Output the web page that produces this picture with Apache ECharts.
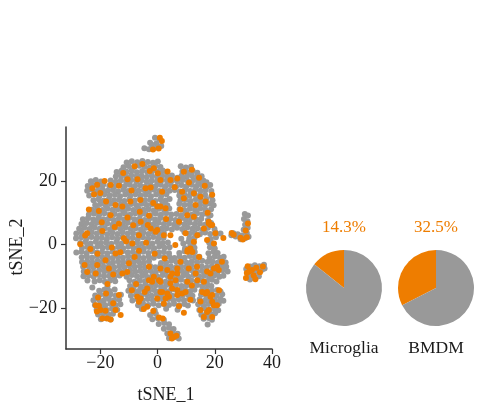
<!DOCTYPE html>
<html>
<head>
<meta charset="utf-8">
<script src="https://cdn.jsdelivr.net/npm/echarts@6/dist/echarts.min.js"></script>
<style>
  html, body { margin: 0; padding: 0; background: #ffffff; }
  #chart { width: 481px; height: 417px; }
</style>
</head>
<body>
<div id="chart"></div>
<script>
// Axis tick values
const xTicks = [-20, 0, 20, 40];
const yTicks = [-20, 0, 20];

// tSNE embedding: cells outside the highlighted group
const greyCells = [
  // small island at the top
  [-4.6,30.3],[-3.0,30.0],[-2.0,31.4],[-0.4,31.8],[0.6,33.2],[-0.9,33.6],[1.3,31.0],[-1.4,30.2],[0.2,30.5],[-2.6,32.0],
  // main body, top to bottom
  [-10.8,25.8],[-9.0,26.2],[-7.1,25.9],[-5.3,26.3],[-3.4,26.0],[-1.6,25.7],[0.1,26.1],
  [-11.9,24.3],[-10.1,24.7],[-8.2,24.4],[-6.4,24.8],[-4.5,24.5],[-2.7,24.2],[-0.8,24.6],[1.0,24.4],[8.1,24.6],[9.9,24.2],[11.7,24.5],
  [-14.3,22.8],[-12.6,23.2],[-10.8,22.9],[-9.0,23.3],[-7.2,22.7],[-5.4,23.1],[-3.6,22.8],[-1.8,23.2],[0.0,22.9],[1.8,23.3],[3.2,22.7],[8.7,23.0],[10.5,22.7],[12.3,23.1],[13.9,22.6],
  [-14.6,21.4],[-12.8,21.7],[-11.0,21.3],[-9.2,21.8],[-7.4,21.4],[-5.6,21.6],[-3.8,21.2],[-2.0,21.7],[-0.2,21.3],[1.6,21.6],[3.4,21.2],[5.0,21.7],[6.9,21.0],[8.4,21.6],[10.2,21.3],[12.0,21.7],[13.8,21.2],[15.4,21.5],
  [-23.3,19.9],[-21.6,20.3],[-19.8,19.8],[-16.4,20.1],[-14.6,19.7],[-12.8,20.2],[-11.0,19.8],[-9.2,20.3],[-7.4,19.9],[-5.6,20.2],[-3.8,19.7],[-2.0,20.1],[-0.2,19.8],[1.6,20.3],[3.4,19.9],[5.2,20.2],[7.0,19.8],[8.8,20.3],[10.6,19.9],[12.4,20.2],[14.2,19.7],[16.0,20.1],[17.1,19.6],
  [-24.4,18.4],[-22.6,18.7],[-20.8,18.3],[-19.0,18.8],[-16.9,18.5],[-15.1,18.2],[-13.3,18.7],[-11.5,18.3],[-9.7,18.8],[-7.9,18.4],[-6.1,18.6],[-4.3,18.2],[-2.5,18.7],[-0.7,18.3],[1.1,18.8],[2.9,18.4],[4.7,18.6],[6.5,18.2],[8.3,18.7],[10.1,18.3],[11.9,18.8],[13.7,18.4],[15.5,18.6],[17.3,18.2],[18.4,18.7],
  [-24.6,16.9],[-22.8,17.2],[-21.0,16.8],[-19.2,17.3],[-17.4,16.9],[-15.6,17.1],[-13.8,16.7],[-12.0,17.2],[-10.2,16.8],[-8.4,17.3],[-6.6,16.9],[-4.8,17.1],[-3.0,16.7],[-1.2,17.2],[0.6,16.8],[2.4,17.3],[4.2,16.9],[6.0,17.1],[7.8,16.7],[9.6,17.2],[11.4,16.8],[13.2,17.3],[15.0,16.9],[16.8,17.1],[18.8,16.8],
  [-23.9,15.4],[-22.1,15.7],[-20.3,15.3],[-18.5,15.8],[-16.7,15.4],[-14.9,15.6],[-13.1,15.2],[-11.3,15.7],[-9.5,15.3],[-7.7,15.8],[-5.9,15.4],[-4.1,15.6],[-2.3,15.2],[-0.5,15.7],[1.3,15.3],[3.1,15.8],[7.6,15.4],[9.4,15.7],[11.2,15.3],[13.0,15.8],[14.8,15.4],[16.6,15.6],[18.8,15.2],
  [-22.4,13.9],[-20.6,14.2],[-18.8,13.8],[-17.0,14.3],[-15.2,13.9],[-13.4,14.1],[-11.6,13.7],[-9.8,14.2],[-8.0,13.8],[-6.2,14.3],[-4.4,13.9],[-2.6,14.1],[-0.8,13.7],[1.0,14.2],[2.8,13.8],[4.2,14.3],[8.0,13.9],[9.8,14.1],[11.6,13.7],[13.4,14.2],[15.2,13.8],[17.0,14.3],[19.2,13.9],
  [-21.8,12.4],[-20.0,12.7],[-18.2,12.3],[-16.4,12.8],[-14.6,12.4],[-12.8,12.6],[-11.0,12.2],[-9.2,12.7],[-7.4,12.3],[-5.6,12.8],[-3.8,12.4],[-2.0,12.6],[-0.2,12.2],[1.6,12.7],[3.4,12.3],[7.6,12.8],[9.4,12.4],[11.2,12.6],[13.0,12.2],[14.8,12.7],[16.6,12.3],[18.4,12.8],[19.6,12.3],
  [-22.9,10.9],[-21.1,11.2],[-19.3,10.8],[-17.5,11.3],[-15.7,10.9],[-13.9,11.1],[-12.1,10.7],[-10.3,11.2],[-8.5,10.8],[-6.7,11.3],[-4.9,10.9],[-3.1,11.1],[-1.3,10.7],[0.5,11.2],[2.3,10.8],[4.1,11.3],[7.7,11.1],[9.5,10.7],[11.3,11.2],[13.1,10.8],[14.9,11.3],[16.7,10.9],[18.7,11.1],
  [-24.0,9.4],[-22.2,9.7],[-20.4,9.3],[-18.6,9.8],[-16.8,9.4],[-15.0,9.6],[-13.2,9.2],[-11.4,9.7],[-9.6,9.3],[-7.8,9.8],[-6.0,9.4],[-4.2,9.6],[-2.4,9.2],[-0.6,9.7],[1.2,9.3],[3.0,9.8],[4.8,9.4],[6.6,9.6],[8.4,9.2],[10.2,9.7],[12.0,9.3],[13.8,9.8],[15.6,9.4],[17.4,9.6],[18.5,9.2],
  [-26.1,7.9],[-24.3,8.2],[-22.5,7.8],[-20.7,8.3],[-18.9,7.9],[-17.1,8.1],[-15.3,7.7],[-13.5,8.2],[-11.7,7.8],[-9.9,8.3],[-8.1,7.9],[-6.3,8.1],[-4.5,7.7],[-2.7,8.2],[-0.9,7.8],[0.9,8.3],[2.7,7.9],[4.5,8.1],[6.3,7.7],[8.1,8.2],[9.9,7.8],[11.7,8.3],[13.5,7.9],[15.3,8.1],[17.6,7.7],
  [-26.6,6.4],[-24.8,6.7],[-23.0,6.3],[-21.2,6.8],[-19.4,6.4],[-17.6,6.6],[-15.8,6.2],[-14.0,6.7],[-12.2,6.3],[-10.4,6.8],[-8.6,6.4],[-6.8,6.6],[-5.0,6.2],[-3.2,6.7],[-1.4,6.3],[0.4,6.8],[2.2,6.4],[4.0,6.6],[5.8,6.2],[7.6,6.7],[9.4,6.3],[11.2,6.8],[13.0,6.4],[14.8,6.6],[16.6,6.2],[18.7,6.7],
  [-27.4,4.9],[-25.6,5.2],[-23.8,4.8],[-22.0,5.3],[-20.2,4.9],[-18.4,5.1],[-16.6,4.7],[-14.8,5.2],[-13.0,4.8],[-11.2,5.3],[-9.4,4.9],[-7.6,5.1],[-5.8,4.7],[-4.0,5.2],[-2.2,4.8],[-0.4,5.3],[1.4,4.9],[3.2,5.1],[5.0,4.7],[6.8,5.2],[8.6,4.8],[10.4,5.3],[12.2,4.9],[14.0,5.1],[15.8,4.7],[17.6,5.2],[19.9,4.8],
  [-28.4,3.4],[-26.6,3.7],[-24.8,3.3],[-23.0,3.8],[-21.2,3.4],[-19.4,3.6],[-17.6,3.2],[-15.8,3.7],[-14.0,3.3],[-12.2,3.8],[-10.4,3.4],[-8.6,3.6],[-6.8,3.2],[-5.0,3.7],[-3.2,3.3],[-1.4,3.8],[0.4,3.4],[2.2,3.6],[9.4,3.8],[11.2,3.4],[13.0,3.6],[14.8,3.2],[16.6,3.7],[18.4,3.3],[20.2,3.8],[22.0,3.4],
  [-28.5,1.9],[-26.7,2.2],[-24.9,1.8],[-23.1,2.3],[-21.3,1.9],[-19.5,2.1],[-17.7,1.7],[-15.9,2.2],[-14.1,1.8],[-12.3,2.3],[-10.5,1.9],[-8.7,2.1],[-6.9,1.7],[-5.1,2.2],[-3.3,1.8],[-1.5,2.3],[0.3,1.9],[2.1,2.1],[8.3,1.8],[11.1,1.9],[12.9,2.1],[18.6,1.7],[20.4,2.2],
  [-27.0,0.4],[-25.2,0.7],[-23.4,0.3],[-21.6,0.8],[-19.8,0.4],[-18.0,0.6],[-16.2,0.2],[-14.4,0.7],[-12.6,0.3],[-10.8,0.8],[-9.0,0.4],[-7.2,0.6],[-5.4,0.2],[-3.6,0.7],[-1.8,0.3],[0.0,0.8],[1.8,0.4],[3.6,0.6],[9.0,0.3],[10.8,0.8],[12.6,0.4],[18.0,0.6],[19.6,0.2],
  [-26.4,-1.1],[-24.6,-0.8],[-22.8,-1.2],[-21.0,-0.7],[-19.2,-1.1],[-17.4,-0.9],[-15.6,-1.3],[-13.8,-0.8],[-12.0,-1.2],[-10.2,-0.7],[-8.4,-1.1],[-6.6,-0.9],[-4.8,-1.3],[-3.0,-0.8],[-1.2,-1.2],[0.6,-0.7],[2.4,-1.1],[4.2,-0.9],[9.6,-1.2],[11.4,-0.7],[12.9,-1.1],[18.3,-0.9],[20.0,-1.3],
  [-28.4,-2.6],[-26.6,-2.3],[-24.8,-2.7],[-23.0,-2.2],[-21.2,-2.6],[-19.4,-2.4],[-17.6,-2.8],[-15.8,-2.3],[-14.0,-2.7],[-12.2,-2.2],[-10.4,-2.6],[-8.6,-2.4],[-6.8,-2.8],[-5.0,-2.3],[-3.2,-2.7],[-1.4,-2.2],[0.4,-2.6],[2.2,-2.4],[4.0,-2.8],[7.6,-2.7],[9.4,-2.2],[13.0,-2.4],[17.8,-2.8],[19.6,-2.3],[21.0,-2.7],
  [-26.5,-4.1],[-24.7,-3.8],[-22.9,-4.2],[-21.1,-3.7],[-19.3,-4.1],[-17.5,-3.9],[-15.7,-4.3],[-13.9,-3.8],[-12.1,-4.2],[-10.3,-3.7],[-8.5,-4.1],[-6.7,-3.9],[-4.9,-4.3],[-3.1,-3.8],[-1.3,-4.2],[0.5,-3.7],[2.3,-4.1],[4.1,-3.9],[5.9,-4.3],[7.7,-3.8],[9.5,-4.2],[11.3,-3.7],[13.1,-4.1],[14.6,-3.9],[18.2,-4.3],[20.0,-3.8],[21.8,-4.2],[23.1,-3.9],
  [-26.4,-5.6],[-24.6,-5.3],[-22.8,-5.7],[-21.0,-5.2],[-19.2,-5.6],[-17.4,-5.4],[-15.6,-5.8],[-13.8,-5.3],[-12.0,-5.7],[-10.2,-5.2],[-8.4,-5.6],[-6.6,-5.4],[-4.8,-5.8],[-3.0,-5.3],[1.2,-5.9],[3.0,-5.7],[4.8,-5.2],[6.6,-5.6],[8.4,-5.4],[10.2,-5.8],[12.0,-5.3],[13.8,-5.7],[15.6,-5.2],[17.4,-5.6],[19.2,-5.4],[21.0,-5.8],[22.8,-5.3],[23.8,-5.7],
  [-26.0,-7.1],[-24.2,-6.8],[-22.4,-7.2],[-20.6,-6.7],[-18.8,-7.1],[-17.0,-6.9],[-15.2,-7.3],[-13.4,-6.8],[-11.6,-7.2],[-9.8,-6.7],[-8.0,-7.1],[-6.2,-6.9],[-4.4,-7.3],[-2.6,-6.8],[-0.8,-7.2],[1.0,-6.7],[2.8,-7.1],[4.6,-6.9],[6.4,-7.3],[8.2,-6.8],[10.0,-7.2],[11.8,-6.7],[13.6,-7.1],[15.4,-6.9],[17.2,-7.3],[19.0,-6.8],[20.8,-7.2],[22.6,-6.7],[24.0,-7.1],
  [-25.8,-8.6],[-24.0,-8.3],[-22.2,-8.7],[-20.4,-8.2],[-18.6,-8.6],[-16.8,-8.4],[-15.0,-8.8],[-13.2,-8.3],[-11.4,-8.7],[-9.6,-8.2],[-7.8,-8.6],[-6.0,-8.4],[-4.2,-8.8],[-2.4,-8.3],[-0.6,-8.7],[1.2,-8.2],[3.0,-8.6],[4.8,-8.4],[6.6,-8.8],[8.4,-8.3],[10.2,-8.7],[12.0,-8.2],[13.8,-8.6],[15.6,-8.4],[17.4,-8.8],[19.2,-8.3],[21.0,-8.7],[22.8,-8.2],[24.5,-8.6],
  [-25.9,-10.1],[-24.1,-9.8],[-22.3,-10.2],[-20.5,-9.7],[-18.7,-10.1],[-16.9,-9.9],[-15.1,-10.3],[-13.3,-9.8],[-10.8,-10.2],[-9.0,-9.7],[-7.2,-10.1],[-5.4,-9.9],[-3.6,-10.3],[-1.8,-9.8],[0.0,-10.2],[1.8,-9.7],[3.6,-10.1],[5.4,-9.9],[7.2,-10.3],[9.0,-9.8],[10.8,-10.2],[12.6,-9.7],[14.4,-10.1],[16.2,-9.9],[18.0,-10.3],[19.8,-9.8],[21.6,-10.2],[23.0,-9.9],
  [-24.5,-11.4],[-22.0,-11.7],[-20.2,-11.3],[-18.4,-11.8],[-16.6,-11.4],[-14.8,-11.6],[-9.8,-11.3],[-8.0,-11.8],[-6.2,-11.4],[-4.4,-11.6],[-2.6,-11.2],[-0.8,-11.7],[1.0,-11.3],[2.8,-11.8],[4.6,-11.4],[6.4,-11.6],[8.2,-11.2],[10.0,-11.7],[11.8,-11.3],[13.6,-11.8],[15.4,-11.4],[17.2,-11.6],[19.0,-11.2],[20.6,-11.7],
  [-22.8,-13.6],[-17.5,-13.2],[-9.6,-13.1],[-7.8,-12.8],[-6.0,-13.2],[-4.2,-12.7],[-2.4,-13.1],[-0.6,-12.9],[1.2,-13.3],[3.0,-12.8],[4.8,-13.2],[6.6,-12.7],[8.4,-13.1],[10.2,-12.9],[12.0,-13.3],[13.8,-12.8],[15.6,-13.2],[17.4,-12.7],[18.8,-13.1],
  // lower lobes: left island, centre, right
  [-20.4,-14.6],[-18.6,-14.3],[-16.8,-14.7],[-15.0,-14.2],
  [-10.2,-14.6],[-8.4,-14.3],[-6.6,-14.7],[-4.8,-14.2],[-3.0,-14.6],[-1.2,-14.4],[0.6,-14.8],[2.4,-14.3],[4.2,-14.7],[6.0,-14.2],[7.8,-14.6],[9.6,-14.4],[11.4,-14.8],[12.9,-14.3],
  [15.4,-14.7],[17.2,-14.2],[19.0,-14.6],[20.8,-14.4],[22.0,-14.9],
  [-21.8,-16.1],[-20.0,-15.8],[-18.2,-16.2],[-16.4,-15.7],[-14.6,-16.1],[-12.8,-15.9],
  [-9.3,-16.2],[-7.5,-15.8],[-5.7,-16.1],[-3.9,-15.7],[-2.1,-16.2],[-0.3,-15.8],[1.5,-16.1],[3.3,-15.7],[5.1,-16.2],[6.9,-15.8],[8.7,-16.1],[10.5,-15.7],[12.2,-16.2],
  [15.2,-15.9],[17.0,-16.3],[18.8,-15.8],[20.6,-16.2],[22.6,-15.7],
  [-22.4,-17.6],[-20.6,-17.3],[-18.8,-17.7],[-17.0,-17.2],[-15.2,-17.6],[-13.4,-17.4],
  [-8.8,-17.7],[-7.0,-17.3],[-5.2,-17.6],[-3.4,-17.2],[-1.6,-17.7],[0.2,-17.3],[2.0,-17.6],[3.8,-17.2],[5.6,-17.7],[7.4,-17.3],[9.2,-17.6],[11.0,-17.2],[12.4,-17.7],
  [14.7,-17.4],[16.5,-17.8],[18.3,-17.3],[20.1,-17.7],[22.0,-17.2],[23.0,-17.8],
  [-21.9,-19.1],[-20.1,-18.8],[-18.3,-19.2],[-16.5,-18.7],[-14.7,-19.1],[-13.0,-18.9],
  [-6.8,-19.2],[-5.0,-18.8],[-3.2,-19.1],[-1.4,-18.7],[0.4,-19.2],[2.2,-18.8],[4.0,-19.1],[5.8,-18.7],[7.6,-19.2],[9.4,-18.8],[10.6,-19.3],
  [14.2,-18.9],[16.0,-19.3],[17.8,-18.8],[19.6,-19.2],[21.4,-18.7],
  [-21.3,-20.6],[-19.5,-20.3],[-17.7,-20.7],[-15.9,-20.2],[-14.1,-20.6],
  [-5.5,-20.4],[-1.0,-20.8],[3.0,-20.3],[7.0,-20.6],
  [14.6,-20.7],[16.4,-20.2],[18.2,-20.6],[20.0,-20.3],[21.2,-20.8],
  [-20.8,-22.1],[-19.0,-21.8],[-17.2,-22.2],[-15.6,-21.9],
  [15.3,-22.2],[17.1,-21.8],[18.9,-22.1],[20.1,-21.7],
  [-19.8,-23.6],[-18.0,-23.3],[-16.4,-23.7],
  [16.1,-23.5],[17.9,-23.2],[19.0,-23.8],[17.5,-25.3],
  // bottom island
  [-2.6,-22.3],[-0.6,-21.9],[-1.8,-23.6],[0.1,-23.3],[2.2,-23.8],
  [0.4,-25.1],[2.3,-24.8],[4.0,-25.2],[2.2,-26.6],[4.0,-26.3],[5.6,-26.7],
  [3.4,-28.1],[5.2,-27.8],[7.0,-28.2],[4.0,-29.6],[5.8,-29.3],[7.4,-29.7],
  // right islands
  [30.5,9.6],[31.6,9.1],[30.2,8.0],[31.4,7.3],[30.6,6.2],[31.5,5.2],[30.1,4.6],[31.2,3.6],[29.5,2.8],[28.0,3.2],[26.5,3.5],[27.3,2.5],[25.8,2.9],[30.6,1.9],[29.0,1.6],[31.8,2.4],
  [31.0,-7.8],[32.5,-7.0],[34.0,-6.6],[35.6,-6.9],[37.2,-6.4],[36.5,-8.0],[34.8,-8.5],[33.2,-9.0],[31.8,-9.6],[33.8,-10.6],[35.4,-10.1],[37.4,-7.6],[32.3,-11.1]
];

// tSNE embedding: cells of the highlighted group
const orangeCells = [
  [0.8,33.6],[1.5,32.6],[0.4,30.2],[-1.6,29.9],
  [-5.3,25.3],[-8.0,24.6],[-2.7,23.1],[0.1,22.4],[-13.5,18.5],[-16.4,18.7],[-22.8,17.7],[-21.1,18.8],[-22.2,15.8],[-20.0,16.2],
  [-9.1,17.0],[-6.0,14.0],[-4.2,17.7],[-2.4,17.9],[1.0,20.3],[-14.7,12.4],[-12.3,11.9],[-6.2,10.3],[1.0,11.9],[-16.4,9.2],
  [-19.3,4.2],[-24.6,3.5],[-25.3,2.8],[-5.9,7.1],[-3.4,6.1],[-2.4,5.0],[-0.1,4.5],[-6.5,2.9],[-18.0,13.5],[-10.5,20.5],
  [-1.5,13.0],[-8.5,6.0],[-11.0,1.0],[-21.0,-3.0],[-13.0,-2.5],[-8.0,-4.0],[-4.0,0.5],[-15.0,5.5],
  [-1.3,24.0],[9.2,22.9],[4.5,20.3],[6.9,20.8],[1.6,16.6],[8.6,16.6],[12.7,16.1],[15.0,15.0],[9.2,14.5],[-0.1,11.9],[2.8,11.4],
  [13.3,12.4],[16.8,13.5],[19.1,15.6],[7.5,7.1],[10.4,9.2],[12.7,8.7],[17.9,7.1],[18.5,6.1],[16.2,5.0],[13.9,2.9],[9.8,3.5],
  [-0.7,4.0],[2.2,2.9],[23.0,2.0],[11.0,19.5],[14.5,21.0],[3.0,8.0],[4.5,2.9],[10.5,-1.8],[12.2,-2.4],[6.2,-0.2],
  [-21.6,-9.2],[-24.6,-8.7],[-17.0,-7.6],[-12.3,-9.2],[-10.6,-8.7],[-3.0,-11.3],[0.5,-11.3],[-7.1,-16.5],[-6.5,-18.1],[-4.8,-20.4],
  [-3.6,-13.9],[1.0,-15.0],[-21.1,-6.5],[-18.2,-5.0],[-8.8,0.3],[-11.8,1.9],[-14.7,-2.9],
  [-21.6,-19.2],[-20.5,-19.4],[-19.9,-20.7],[-18.2,-20.9],[-17.6,-23.4],[-16.4,-23.7],[-19.3,-23.4],[-14.7,-20.7],[-12.9,-22.3],
  [-21.2,-21.2],[-15.5,-18.6],[-20.8,-16.8],
  [0.5,-23.1],[1.8,-23.4],[4.5,-28.1],[5.7,-29.2],[6.6,-28.8],[5.0,-29.7],
  [11.5,-1.3],[20.8,-7.1],[21.4,-8.1],[18.5,-9.2],[13.3,-9.2],[6.9,-9.2],[4.5,-10.2],[-1.3,-10.2],[5.1,-13.9],
  [6.9,-14.4],[8.6,-15.5],[4.0,-16.5],[2.2,-18.7],[9.2,-21.6],[15.6,-15.0],[16.8,-15.5],[18.5,-16.5],[19.1,-18.1],[19.7,-19.2],
  [17.9,-20.7],[15.0,-20.7],[16.2,-22.9],[13.9,-11.3],
  [-3.0,-7.1],[1.0,-7.6],[3.4,-8.1],[5.1,-9.2],[6.9,-7.6],[10.9,-7.6],[13.8,-7.1],[-1.9,-11.8],[1.0,-11.8],[4.5,-12.3],
  [6.3,-11.3],[1.6,-15.0],[3.4,-15.5],[-0.1,-17.1],[2.8,-17.1],[-5.9,-17.1],[-3.6,-19.7],[6.9,-16.0],[10.4,-11.8],[9.8,-15.0],
  [12.7,0.8],[10.4,-2.3],[19.7,0.3],[17.3,1.4],[20.2,3.5],[19.1,6.1],[17.9,6.6],
  [19.7,-7.6],[17.3,-8.6],[16.2,-11.8],[17.3,-15.0],[19.1,-16.0],[20.8,-19.2],[17.3,-21.3],[19.1,-22.9],
  [-18.5,20.0],[-12.0,22.5],[-7.0,20.5],[3.5,23.0],[12.0,23.5],[16.5,18.5],[-24.0,11.0],[-19.5,7.0],[-9.5,13.5],[-3.0,9.0],
  [6.0,18.0],[17.5,10.0],[-27.0,0.0],[-23.5,-1.5],[-16.0,-1.0],[-10.0,-6.0],[-6.5,-2.0],[-1.0,-3.0],[2.5,-4.5],[8.0,-5.5],
  [14.5,-4.0],[22.5,-5.5],[-25.5,-6.5],[-15.5,-9.5],[-7.5,-12.5],[-9.0,-14.5],[11.5,-17.5],[-1.5,-21.0],[21.5,-14.5],[15.0,-18.0],
  [-13.5,-16.0],[-18.0,-15.5],[-10.5,8.5],[8.0,11.0],[-17.5,-12.5],[-4.5,-15.0],[7.5,-19.5],[12.0,-13.0],[-13.5,6.5],[-20.5,10.5],
  [31.2,2.2],[29.8,1.5],[25.9,3.6],[30.8,4.4],[31.6,6.6],[26.6,3.0],[29.0,2.1],
  [31.5,-6.9],[33.0,-8.1],[34.5,-7.4],[35.8,-8.8],[33.6,-9.8],[30.9,-10.6],[36.8,-7.0],[34.2,-11.0],[32.0,-8.6],[31.2,-9.0]
];

// Share of highlighted cells per population (percent)
const pieNames = ['Microglia', 'BMDM'];
const orangeShare = [14.3, 32.5];
const greyShare = [85.7, 67.5];

const ORANGE = '#ee7d00';
const GREY = '#999999';
const FONT = '"Liberation Serif", "Times New Roman", serif';
const TEXT = '#1a1a1a';

const pieCenters = [[344, 288], [436, 288]];

const fmtTick = v => (v < 0 ? '\u2212' + Math.abs(v) : String(v));

const axisCommon = {
  type: 'value',
  splitLine: { show: false },
  axisLine: { show: true, onZero: false, lineStyle: { color: '#333333', width: 1.5 } },
  axisTick: { show: true, length: 5, lineStyle: { color: '#333333', width: 1.2 } }
};

const pieSeries = pieNames.map((name, i) => ({
  type: 'pie',
  name: name,
  center: pieCenters[i],
  radius: 38,
  startAngle: 90,
  clockwise: false,
  silent: true,
  label: { show: false },
  labelLine: { show: false },
  emphasis: { disabled: true },
  itemStyle: { borderWidth: 0 },
  data: [
    { name: 'highlighted', value: orangeShare[i], itemStyle: { color: ORANGE } },
    { name: 'other', value: greyShare[i], itemStyle: { color: GREY } }
  ]
}));

const pieTexts = [];
pieNames.forEach((name, i) => {
  pieTexts.push({
    type: 'text', x: pieCenters[i][0], y: 228,
    style: { text: orangeShare[i].toFixed(1) + '%', fill: ORANGE, font: '17px ' + FONT, textAlign: 'center', textVerticalAlign: 'middle' }
  });
  pieTexts.push({
    type: 'text', x: pieCenters[i][0], y: 348,
    style: { text: name, fill: TEXT, font: '17.5px ' + FONT, textAlign: 'center', textVerticalAlign: 'middle' }
  });
});

const chart = echarts.init(document.getElementById('chart'), null, { renderer: 'canvas' });
chart.setOption({
  animation: false,
  backgroundColor: '#ffffff',
  grid: { left: 66, top: 127, width: 206, height: 222, containLabel: false },
  xAxis: Object.assign({}, axisCommon, {
    min: -32, max: 40,
    axisTick: Object.assign({}, axisCommon.axisTick, { customValues: xTicks }),
    axisLabel: { customValues: xTicks, formatter: fmtTick, margin: 5, color: TEXT, fontFamily: FONT, fontSize: 18 }
  }),
  yAxis: Object.assign({}, axisCommon, {
    min: -33, max: 37,
    axisTick: Object.assign({}, axisCommon.axisTick, { customValues: yTicks }),
    axisLabel: { customValues: yTicks, formatter: fmtTick, margin: 9, color: TEXT, fontFamily: FONT, fontSize: 18 }
  }),
  series: [
    {
      type: 'scatter', data: greyCells, symbol: 'circle', symbolSize: 6,
      itemStyle: { color: GREY, opacity: 1 }, silent: true, z: 2
    },
    {
      type: 'scatter', data: orangeCells, symbol: 'circle', symbolSize: 6,
      itemStyle: { color: ORANGE, opacity: 1 }, silent: true, z: 3
    }
  ].concat(pieSeries),
  graphic: [
    {
      type: 'text', x: 166, y: 395,
      style: { text: 'tSNE_1', fill: TEXT, font: '18px ' + FONT, textAlign: 'center', textVerticalAlign: 'middle' }
    },
    {
      type: 'text', x: 17, y: 247, rotation: Math.PI / 2,
      style: { text: 'tSNE_2', fill: TEXT, font: '18px ' + FONT, textAlign: 'center', textVerticalAlign: 'middle' }
    }
  ].concat(pieTexts)
});
</script>
</body>
</html>
